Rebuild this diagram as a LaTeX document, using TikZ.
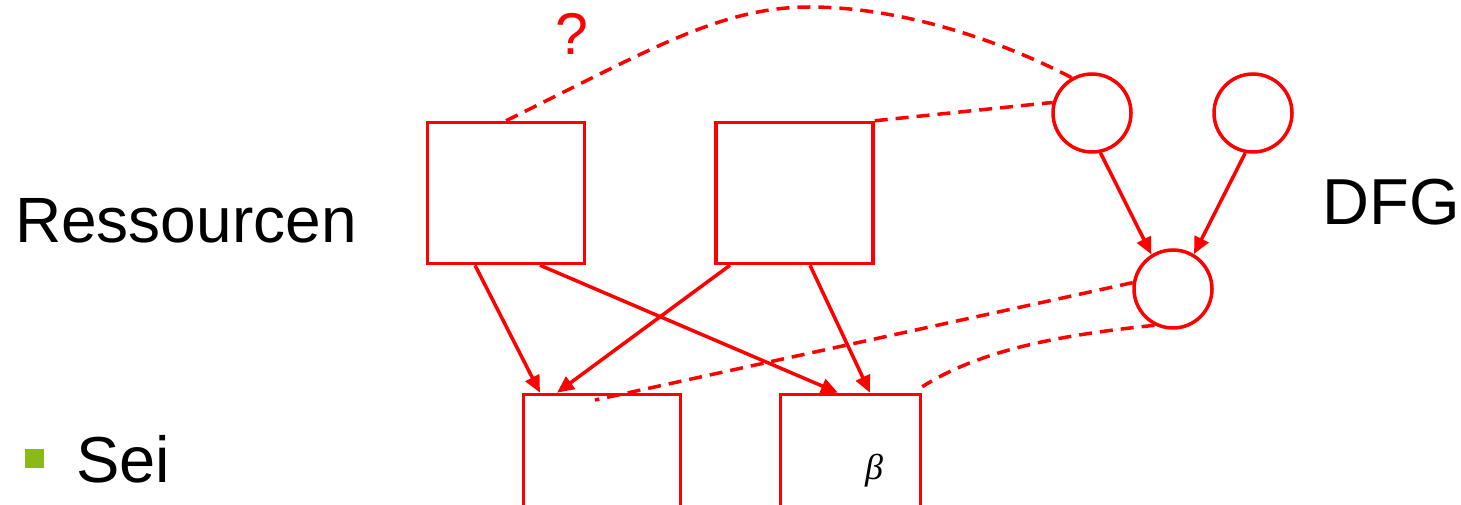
\documentclass[tikz,border=0pt]{standalone}
\usepackage{fontspec}
\setmainfont{Liberation Sans}
\newfontfamily\greekfont{Liberation Serif}
\usepackage{tikz}
\usetikzlibrary{arrows.meta, positioning, shapes.geometric}
\definecolor{bulletgreen}{RGB}{138,185,26}
\tikzset{
  resbox/.style={rectangle, draw=red, line width=3.5pt, minimum width=157pt,
                 minimum height=141pt, inner sep=0pt},
  opnode/.style={circle, draw=red, line width=3.5pt, minimum size=78pt, inner sep=0pt},
  arrow/.style={-{Triangle[length=17pt, width=15pt]}, line width=3.5pt, color=red},
  bindline/.style={line width=3.5pt, color=red, dash pattern=on 13pt off 8pt},
  biglabel/.style={font=\fontsize{65}{65}\selectfont, inner sep=0pt},
}
\begin{document}
\begin{tikzpicture}[x=1pt, y=-1pt]
  \clip (0,0) rectangle (1461,505);

  % resources
  \node[resbox] (ra) at (506,193) {};
  \node[resbox, right=128pt of ra] (rb) {};
  \node[resbox] (rc) at (602,465) {};
  \node[resbox, minimum width=140pt] (rd) at (850.5,465) {};
  \node[font=\greekfont\itshape\fontsize{36}{36}\selectfont, inner sep=0pt] (beta) at (874,471) {β};
  \coordinate (rcin) at (595,400);

  % data flow graph
  \node[opnode] (v1) at (1092,113) {};
  \node[opnode] (v2) at (1253,113) {};
  \node[opnode] (v3) at (1173,289) {};

  % labels
  \node[biglabel, font=\fontsize{64}{64}\selectfont, anchor=base west] (res) at (15,242) {Ressourcen};
  \node[biglabel, anchor=base east] (dfg) at (1460,225) {DFG};
  \node[biglabel, anchor=base west] (sei) at (76,482) {Sei};
  \node[rectangle, fill=bulletgreen, minimum size=19pt, inner sep=0pt] (bul) at (34.5,458.5) {};
  \node[biglabel, font=\fontsize{59}{59}\selectfont, text=red, anchor=base] (qm) at (572,55) {?};

  % edges
  \draw[arrow] ([xshift=-31pt]ra.south) -- ([xshift=-62pt]rc.north);
  \draw[arrow] ([xshift=34pt]ra.south) -- ([xshift=-12.5pt]rd.north);
  \draw[arrow] ([xshift=-64.5pt]rb.south) -- ([xshift=-45pt]rc.north);
  \draw[arrow] ([xshift=15.5pt]rb.south) -- ([xshift=19.5pt]rd.north);
  \draw[arrow] (v1.-78) -- (v3.122);
  \draw[arrow] (v2.-101) -- (v3.59);

  % bindings
  \draw[bindline] (ra.north) .. controls (650,50) and (720,7) .. (810,7)
                  .. controls (900,7) and (1000,40) .. (v1.120);
  \draw[bindline] (rb.north east) -- (v1.165);
  \draw[bindline] (v3.171) -- (rcin);
  \draw[bindline] (v3.243) .. controls (1060,335) and (980,350) .. ([yshift=6pt]rd.north east);
\end{tikzpicture}
\end{document}
